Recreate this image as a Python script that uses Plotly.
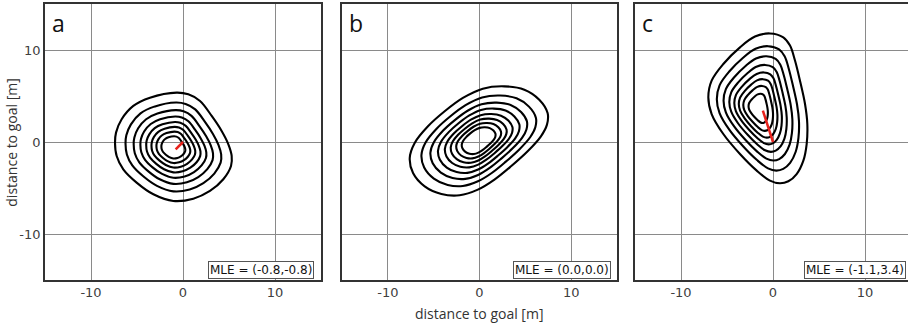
import plotly.graph_objects as go

# ---------------- data ----------------
panel_labels = ["a", "b", "c"]
mle_text = ["MLE = (-0.8,-0.8)", "MLE = (0.0,0.0)", "MLE = (-1.1,3.4)"]
mle_x = [-0.8, 0.0, -1.1]
mle_y = [-0.8, 0.0, 3.4]
tick_vals = [-10, 0, 10]
tick_text = ["-10", "0", "10"]

# outermost likelihood contour of each panel (data units)
outer_a_x = [-0.69, -3.59, -5.40, -6.67, -7.28, -7.39, -7.21, -6.49, -5.04, -3.22, -1.05,
             1.12, 2.93, 4.38, 5.22, 5.29, 4.93, 4.20, 3.12, 1.85, 0.58]
outer_a_y = [5.37, 4.82, 3.92, 2.47, 1.02, -0.07, -1.52, -2.97, -4.41, -5.68, -6.41,
             -6.16, -5.32, -4.05, -2.61, -1.52, -0.25, 1.20, 2.83, 4.46, 5.18]
outer_b_x = [2.72, 4.89, 6.52, 7.43, 7.36, 6.70, 5.25, 3.44, 1.63, -0.18, -2.17, -4.16,
             -5.98, -7.25, -7.61, -7.07, -5.62, -3.80, -1.81, 0.36]
outer_b_y = [6.05, 5.69, 4.60, 3.15, 1.89, 0.62, -1.01, -2.64, -4.09, -5.18, -5.79, -5.65,
             -4.82, -3.37, -1.74, -0.10, 1.71, 3.34, 4.79, 5.80]
outer_c_x = [-0.33, 1.12, 1.85, 2.39, 2.93, 3.48, 3.73, 3.66, 3.30, 2.57, 1.67, 0.76,
             -0.33, -1.77, -3.59, -5.40, -6.67, -7.03, -6.67, -5.40, -3.59, -1.96]
outer_c_y = [11.80, 11.38, 10.48, 8.85, 6.67, 4.13, 1.96, -0.22, -2.02, -3.48, -4.27, -4.49,
             -4.20, -3.11, -1.30, 0.87, 3.04, 4.86, 6.67, 8.48, 10.29, 11.46]

# contour nesting centres and relative sizes of the 8 contours
centre_x = [-1.05, -0.10, -1.60]
centre_y = [-0.60, 0.15, 3.65]
ring_scale_a = [1.0, 0.82, 0.68, 0.565, 0.465, 0.375, 0.29, 0.205]
ring_scale_b = [1.0, 0.83, 0.70, 0.59, 0.49, 0.405, 0.325, 0.245]
ring_scale_c = [1.0, 0.83, 0.695, 0.58, 0.48, 0.39, 0.30, 0.195]

# ---------------- figure ----------------
W, H = 908, 329
outers = [(outer_a_x, outer_a_y), (outer_b_x, outer_b_y), (outer_c_x, outer_c_y)]
scales = [ring_scale_a, ring_scale_b, ring_scale_c]

fig = go.Figure()
for i in range(3):
    xa = "x" if i == 0 else f"x{i+1}"
    ya = "y" if i == 0 else f"y{i+1}"
    ox, oy = outers[i]
    cx0, cy0 = centre_x[i], centre_y[i]
    for s in scales[i]:
        xs = [cx0 + s * (v - cx0) for v in ox]
        ys = [cy0 + s * (v - cy0) for v in oy]
        xs.append(xs[0])
        ys.append(ys[0])
        fig.add_trace(go.Scatter(
            x=xs, y=ys, mode="lines", xaxis=xa, yaxis=ya,
            line=dict(color="black", width=2.1, shape="spline", smoothing=1.0),
            hoverinfo="skip", showlegend=False))
    fig.add_trace(go.Scatter(
        x=[0, mle_x[i]], y=[0, mle_y[i]], mode="lines", xaxis=xa, yaxis=ya,
        line=dict(color="#e8221c", width=2.5), hoverinfo="skip", showlegend=False))

grid_col = "#8a8a8a"
frame_col = "#333333"
tick_font = dict(family="DejaVu Sans", size=13, color="#404040")

x_domains = [[45 / W, 321 / W], [342 / W, 617 / W], [635 / W, 1.0]]
x_ranges = [[-15, 15], [-15, 15], [-15, (908 - 773) / 9.2]]
y_domain = [(H - 280) / H, (H - 4) / H]

layout = dict(
    width=W, height=H, margin=dict(l=0, r=0, t=0, b=0),
    paper_bgcolor="white", plot_bgcolor="white", showlegend=False,
)
for i in range(3):
    sfx = "" if i == 0 else str(i + 1)
    layout["xaxis" + sfx] = dict(
        domain=x_domains[i], range=x_ranges[i], anchor="y" + sfx,
        tickvals=tick_vals, ticktext=tick_text, tickfont=tick_font,
        showgrid=True, gridcolor=grid_col, gridwidth=1.3, zeroline=False,
        showline=True, linecolor=frame_col, linewidth=1.6, mirror=True,
        ticks="", fixedrange=True)
    layout["yaxis" + sfx] = dict(
        domain=y_domain, range=[-15, 15], anchor="x" + sfx,
        tickvals=tick_vals, ticktext=tick_text, tickfont=tick_font,
        showticklabels=(i == 0),
        showgrid=True, gridcolor=grid_col, gridwidth=1.3, zeroline=False,
        showline=True, linecolor=frame_col, linewidth=1.6, mirror=(i != 2),
        ticks="", fixedrange=True)
fig.update_layout(**layout)

annotations = []
box_right = [14.25, 14.3, 14.45]
for i in range(3):
    sfx = "" if i == 0 else str(i + 1)
    annotations.append(dict(
        text=panel_labels[i], xref=f"x{sfx} domain", yref=f"y{sfx} domain",
        x=0.018, y=0.995, xanchor="left", yanchor="top", showarrow=False,
        font=dict(family="Open Sans", size=23, color="#111111")))
    annotations.append(dict(
        text=mle_text[i], xref="x" + sfx, yref=f"y{sfx} domain",
        x=box_right[i], y=0.004, xanchor="right", yanchor="bottom", showarrow=False,
        font=dict(family="DejaVu Sans", size=12, color="#111111"),
        bgcolor="white", bordercolor="#555555", borderwidth=1, borderpad=1))
annotations.append(dict(
    text="distance to goal [m]", xref="paper", yref="paper",
    x=479 / W, y=(H - 313) / H, xanchor="center", yanchor="middle", showarrow=False,
    font=dict(family="Open Sans", size=14, color="#333333")))
annotations.append(dict(
    text="distance to goal [m]", xref="paper", yref="paper", textangle=-90,
    x=12 / W, y=(H - 142.7) / H, xanchor="center", yanchor="middle", showarrow=False,
    font=dict(family="Open Sans", size=14, color="#333333")))
fig.update_layout(annotations=annotations)

fig.write_html("out.html", config={"displayModeBar": False})
